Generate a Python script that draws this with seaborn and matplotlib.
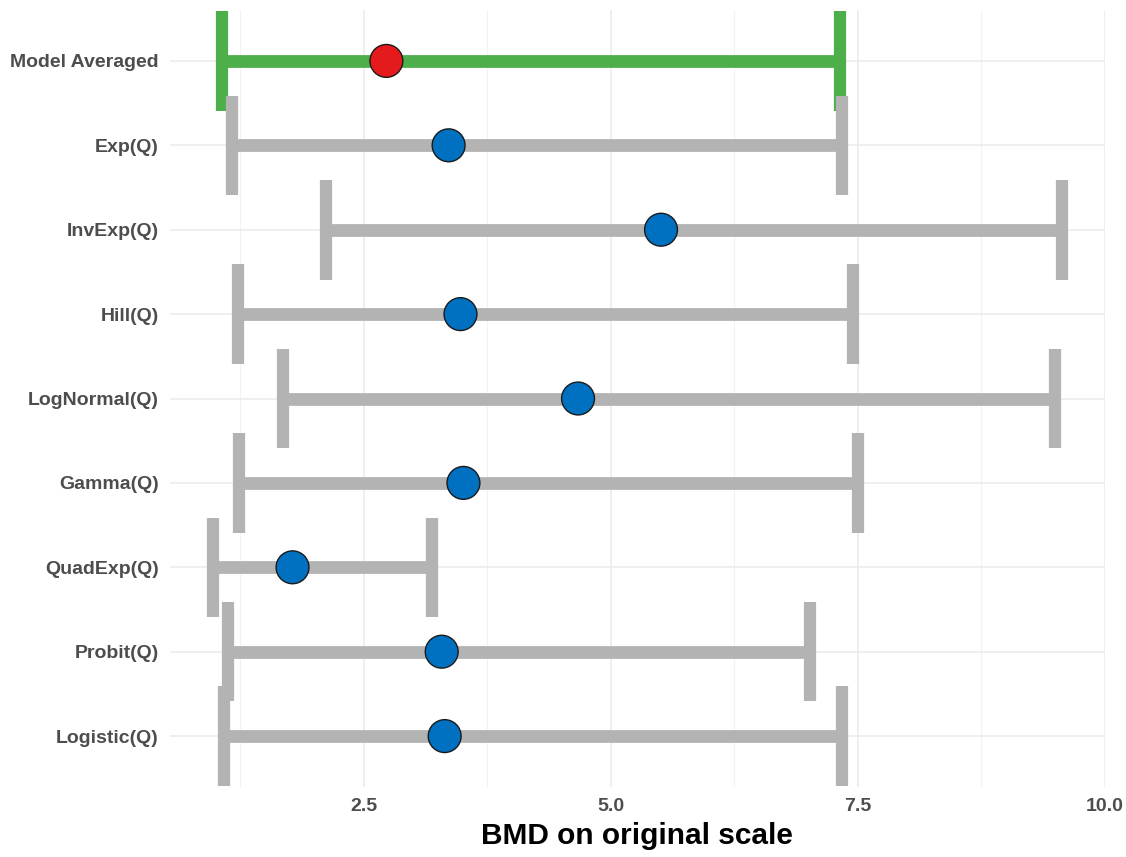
import numpy as np
import pandas as pd
import matplotlib
matplotlib.use("Agg")
import matplotlib.pyplot as plt
import seaborn as sns

models = ["Model Averaged", "Exp(Q)", "InvExp(Q)", "Hill(Q)", "LogNormal(Q)",
          "Gamma(Q)", "QuadExp(Q)", "Probit(Q)", "Logistic(Q)"]
bmd = [2.73, 3.36, 5.51, 3.48, 4.67, 3.51, 1.78, 3.29, 3.32]
bmdl = [1.07, 1.17, 2.12, 1.23, 1.68, 1.24, 0.97, 1.13, 1.09]
bmdu = [7.32, 7.34, 9.57, 7.45, 9.50, 7.50, 3.19, 7.02, 7.34]
xticks = [2.5, 5.0, 7.5, 10.0]
xtick_labels = ["2.5", "5.0", "7.5", "10.0"]
minor_ticks = [1.25, 3.75, 6.25, 8.75]

sns.set_theme(style="white")
plt.rcParams["font.family"] = ["Liberation Sans", "DejaVu Sans"]

df = pd.DataFrame({"model": models, "bmd": bmd, "lo": bmdl, "hi": bmdu})
df["pos"] = np.arange(len(models))
df["kind"] = ["avg"] + ["single"] * (len(models) - 1)

fig = plt.figure(figsize=(11.26, 8.57), dpi=100)
ax = fig.add_axes([0.151, 0.082, 0.830, 0.906])

grid_c = "#EBEBEB"
for x in xticks:
    ax.axvline(x, color=grid_c, lw=1.1, zorder=0)
for x in minor_ticks:
    ax.axvline(x, color="#F2F2F2", lw=0.8, zorder=0)
for p in df["pos"]:
    ax.axhline(p, color=grid_c, lw=1.1, zorder=0)

bar_colors = {"avg": "#4DAF4A", "single": "#B3B3B3"}
cap_half = 0.59
for _, r in df.iterrows():
    c = bar_colors[r["kind"]]
    ax.hlines(r["pos"], r["lo"], r["hi"], colors=c, lw=9.2, zorder=2)
    ax.vlines([r["lo"], r["hi"]], r["pos"] - cap_half, r["pos"] + cap_half,
              colors=c, lw=8.8, zorder=2)

sns.scatterplot(data=df, x="bmd", y="pos", hue="kind",
                palette={"avg": "#E41A1C", "single": "#0070C0"},
                s=560, edgecolor="#1a1a1a", linewidth=1.0, legend=False,
                zorder=3, ax=ax)

ax.set_xlim(0.54, 10.0)
ax.set_ylim(len(models) - 1 + 0.6, -0.6)
ax.set_xticks(xticks)
ax.set_xticklabels(xtick_labels)
ax.set_yticks(df["pos"])
ax.set_yticklabels(models)
ax.tick_params(axis="both", length=0, labelsize=14, labelcolor="#4D4D4D", pad=8)
for lab in ax.get_xticklabels() + ax.get_yticklabels():
    lab.set_fontweight("bold")
ax.set_xlabel("BMD on original scale", fontsize=21.5, fontweight="bold",
              color="black", labelpad=5)
ax.set_ylabel("")
for s in ax.spines.values():
    s.set_visible(False)

fig.savefig("out.png", dpi=100)
